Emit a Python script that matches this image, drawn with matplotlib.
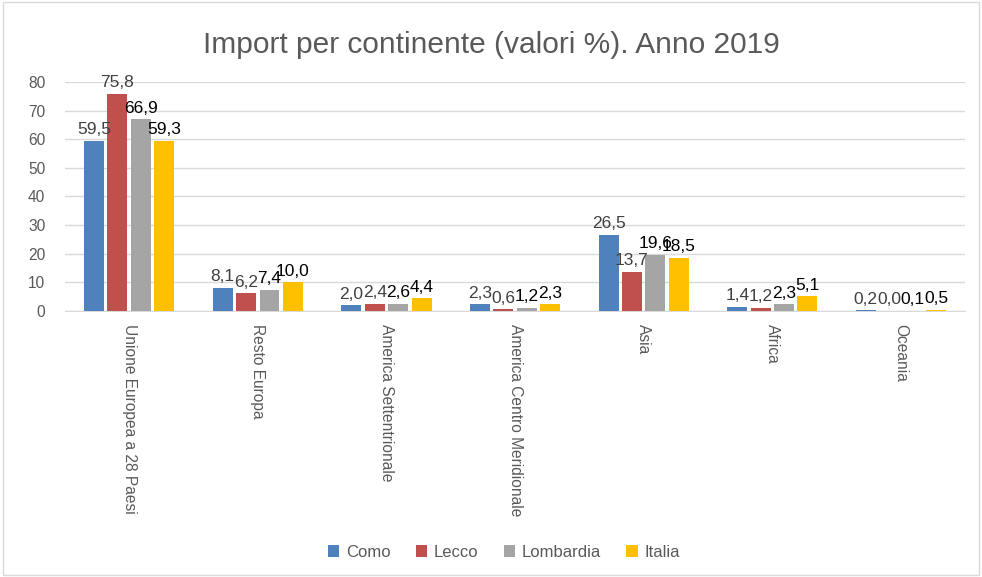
import matplotlib
matplotlib.use("Agg")
from matplotlib import pyplot as plt
import numpy as np

plt.rcParams['font.family'] = ['Liberation Sans', 'DejaVu Sans']

categories = ['Unione Europea a 28 Paesi', 'Resto Europa', 'America Settentrionale',
              'America Centro Meridionale', 'Asia', 'Africa', 'Oceania']
series_names = ['Como', 'Lecco', 'Lombardia', 'Italia']
como = [59.5, 8.1, 2.0, 2.3, 26.5, 1.4, 0.2]
lecco = [75.8, 6.2, 2.4, 0.6, 13.7, 1.2, 0.0]
lombardia = [66.9, 7.4, 2.6, 1.2, 19.6, 2.3, 0.1]
italia = [59.3, 10.0, 4.4, 2.3, 18.5, 5.1, 0.5]

colors = ['#4F81BD', '#C0504D', '#A5A5A5', '#FFC000']
label_colors = ['#404040', '#404040', '#000000', '#000000']

fig = plt.figure(figsize=(9.82, 5.77), dpi=100)
ax = fig.add_axes([0.066, 0.461, 0.917, 0.397])

x = np.arange(len(categories))
step = 0.182
width = 0.155
for i, (vals, name) in enumerate(zip([como, lecco, lombardia, italia], series_names)):
    pos = x + (i - 1.5) * step
    ax.bar(pos, vals, width=width, color=colors[i], label=name, zorder=3)
    for px, v in zip(pos, vals):
        ax.text(px, v + 1.3, f'{v:.1f}'.replace('.', ','), ha='center', va='bottom',
                fontsize=12.5, color=label_colors[i], zorder=4)

ax.set_xlim(-0.5, len(categories) - 0.5)
ax.set_ylim(0, 80)
ax.set_yticks(range(0, 81, 10))
ax.yaxis.grid(True, color='#D9D9D9', linewidth=1, zorder=0)
for s in ['top', 'right', 'left']:
    ax.spines[s].set_visible(False)
ax.spines['bottom'].set_color('#D9D9D9')
ax.tick_params(axis='both', length=0, colors='#595959', labelsize=11.2)
ax.tick_params(axis='y', pad=14)
ax.set_xticks(x)
ax.set_xticklabels(categories, rotation=270, va='top', ha='center')
ax.tick_params(axis='x', pad=9)

fig.text(0.5, 0.922, 'Import per continente (valori %). Anno 2019', ha='center', va='center',
         fontsize=21.5, color='#595959')

fig.legend(loc='center', bbox_to_anchor=(0.513, 0.043), ncol=4, frameon=False,
           fontsize=12, handlelength=0.7, handleheight=0.7, columnspacing=1.5,
           handletextpad=0.4, labelcolor='#595959')

fig.patches.append(plt.Rectangle((0.003, 0.003), 0.994, 0.994, transform=fig.transFigure,
                                 fill=False, edgecolor='#D9D9D9', linewidth=1))

fig.savefig('out.png', dpi=100)
